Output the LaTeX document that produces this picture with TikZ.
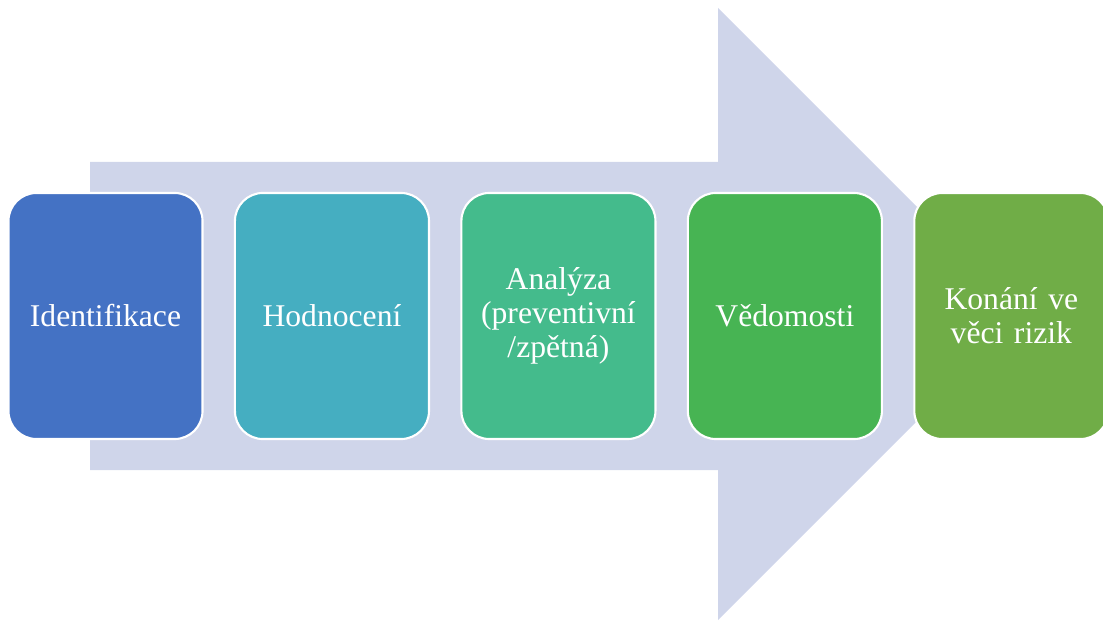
\documentclass[tikz,border=0pt]{standalone}
\usepackage{fontspec}
\setmainfont{Liberation Serif}
\usetikzlibrary{positioning}

\definecolor{arrowfill}{HTML}{CFD5EA}
\definecolor{stepA}{HTML}{4472C4}
\definecolor{stepB}{HTML}{45AEC1}
\definecolor{stepC}{HTML}{44BB8C}
\definecolor{stepD}{HTML}{47B453}
\definecolor{stepE}{HTML}{70AD47}

\tikzset{
    stepbox/.style={rectangle, rounded corners=0.7cm, draw=white, line width=1.5pt,
        minimum width=4.85cm, minimum height=6.15cm, outer sep=0pt,
        text=white, align=center, text width=4.6cm,
        font=\fontsize{22.5}{24}\selectfont}
}

\begin{document}
\begin{tikzpicture}[x=0.025cm,y=0.025cm, node distance=0.81cm]
    \useasboundingbox (0,0) rectangle (1103,620);
    \clip (0,0) rectangle (1103,620);

    \path[fill=arrowfill] (90,150) -- ++(0:628) -- ++(270:150) -- (1024,306)
        -- (718,612) -- ++(270:154) -- ++(180:628) -- cycle;

    \node[stepbox, fill=stepA] (ident) at (105.5,304) {Identifikace};
    \node[stepbox, fill=stepB, right=of ident] (hodn) {Hodnocení};
    \node[stepbox, fill=stepC, right=of hodn] (anal) {Analýza\\(preventivní\\/zpětná)};
    \node[stepbox, fill=stepD, right=of anal] (vedom) {Vědomosti};
    \node[stepbox, fill=stepE, right=of vedom] (konani) {Konání ve\\věci rizik};

\end{tikzpicture}
\end{document}
